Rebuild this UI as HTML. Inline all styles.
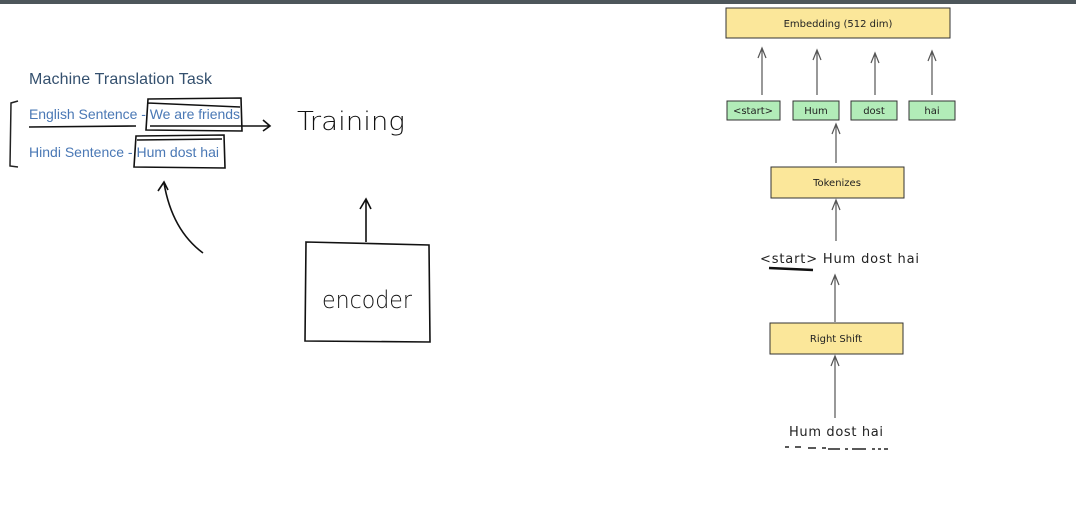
<!DOCTYPE html>
<html><head><style>
html,body{margin:0;padding:0;background:#fff;width:1076px;height:511px;overflow:hidden}
svg{display:block}
.hw{font-family:"DejaVu Sans",sans-serif;font-weight:200}
</style></head><body>
<svg width="1076" height="511" viewBox="0 0 1076 511" xmlns="http://www.w3.org/2000/svg">
<rect x="0" y="0" width="1076" height="4" fill="#4d565b"/>
<text x="29" y="84" font-family="Liberation Sans, sans-serif" font-size="16" fill="#34506e" textLength="183">Machine Translation Task</text>
<path d="M18 101 L11 103 L10 166 L18 167" fill="none" stroke="#222" stroke-width="1.5"/>
<text x="29" y="119" font-family="Liberation Sans, sans-serif" font-size="14" fill="#4a78b5" textLength="211">English Sentence - We are friends</text>
<text x="29" y="157" font-family="Liberation Sans, sans-serif" font-size="14" fill="#4a78b5" textLength="190">Hindi Sentence - Hum dost hai</text>
<g fill="none" stroke="#111" stroke-width="1.6">
<path d="M29 127 L136 126 M150 126 L270 126 M263 120 L270 126 L263 131"/>
<path d="M148 99 L241 98 L242 131 L146 130 Z M148 103 L240 107"/>
<path d="M136 136 L224 135 L225 168 L134 167 Z M137 140 L222 139"/>
<path d="M203 253 Q172 230 164 183 M158 191 L164 182 L168 190"/>
<path d="M306 242 L429 245 L430 342 L305 341 Z"/>
<path d="M366 242 L366 199 M360 209 L366 199 L371 209"/>
</g>
<text x="297" y="130" class="hw" font-size="26" fill="#111" textLength="108" lengthAdjust="spacingAndGlyphs">Training</text>
<text x="322" y="308" class="hw" font-size="24" fill="#111" textLength="90" lengthAdjust="spacingAndGlyphs">encoder</text>
<g stroke="#333" stroke-width="1" fill="#fbe79a">
<rect x="726" y="8" width="224" height="30"/>
<rect x="771" y="167" width="133" height="31"/>
<rect x="770" y="323" width="133" height="31"/>
<g fill="#b2ecb8">
<rect x="727" y="101" width="53" height="19"/>
<rect x="793" y="101" width="46" height="19"/>
<rect x="851" y="101" width="46" height="19"/>
<rect x="909" y="101" width="46" height="19"/>
</g>
</g>
<g font-family="DejaVu Sans, sans-serif" font-size="10" fill="#222" text-anchor="middle">
<text x="838" y="27">Embedding (512 dim)</text>
<text x="837" y="186">Tokenizes</text>
<text x="836" y="342">Right Shift</text>
<text x="753" y="114">&lt;start&gt;</text>
<text x="816" y="114">Hum</text>
<text x="874" y="114">dost</text>
<text x="932" y="114">hai</text>
</g>
<g fill="none" stroke="#555" stroke-width="1.2">
<path d="M762 95 V48 M758 58 L762 48 L766 58"/>
<path d="M817 95 V50 M813 60 L817 50 L821 60"/>
<path d="M875 95 V53 M871 63 L875 53 L879 63"/>
<path d="M932 95 V51 M928 61 L932 51 L936 61"/>
<path d="M836 163 V124 M832 134 L836 124 L840 134"/>
<path d="M836 241 V200 M832 210 L836 200 L840 210"/>
<path d="M835 322 V275 M831 285 L835 275 L839 285"/>
<path d="M835 418 V356 M831 366 L835 356 L839 366"/>
</g>
<text x="760" y="263" font-family="DejaVu Sans, sans-serif" font-size="13" fill="#222" textLength="159">&lt;start&gt; Hum dost hai</text>
<path d="M769 268 L813 270" stroke="#111" stroke-width="2.5"/>
<text x="789" y="436" font-family="DejaVu Sans, sans-serif" font-size="13" fill="#222" textLength="94">Hum dost hai</text>
<path d="M785 447 h4 M795 447 h6 M808 448 h8 M822 448 h4 M828 449 h12 M845 449 h3 M852 449 h14 M872 449 h3 M878 449 h3 M884 449 h4" stroke="#222" stroke-width="1.5"/>
</svg>
</body></html>
